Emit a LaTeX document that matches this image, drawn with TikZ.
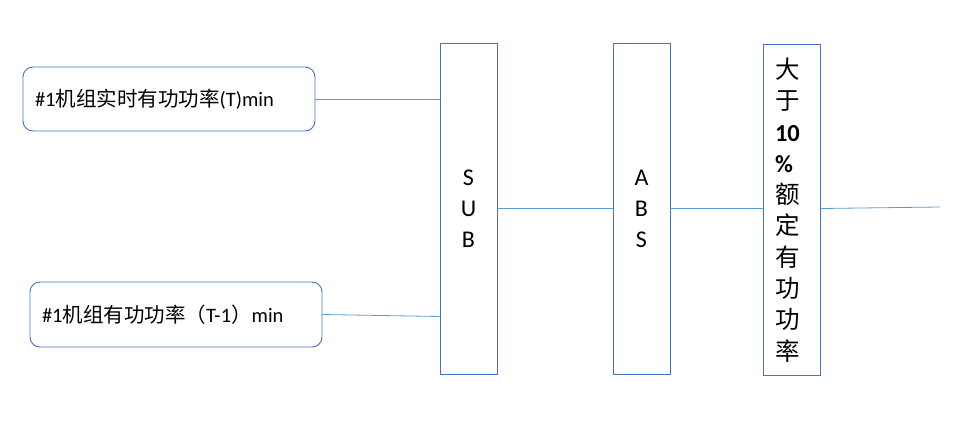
\documentclass[tikz,border=0pt]{standalone}
\usepackage{fontspec}
\setmainfont{Carlito}
\newfontfamily\cjk{Noto Sans CJK SC}
\usepackage{tikz}
\newcommand{\zh}[1]{{\cjk #1}}
\definecolor{boxblue}{HTML}{4472C4}
\definecolor{lineblue}{HTML}{5B9BD5}
\tikzset{
  inbox/.style={draw=boxblue,line width=0.9pt,rounded corners=10pt,text width=268pt,
    inner xsep=12pt,minimum height=64pt,align=left,font=\fontsize{20.5}{24}\selectfont},
  opbox/.style={draw=boxblue,line width=0.9pt,minimum width=57pt,minimum height=331pt,
    inner sep=0pt,align=center},
  wire/.style={draw=lineblue,line width=0.8pt}
}

\begin{document}
\begin{tikzpicture}[x=1pt,y=-1pt]
\useasboundingbox (0,0) rectangle (966,436);
\node[inbox] (cur)  at (169,99)    {\#1\zh{机组实时有功功率}(T)min};
\node[inbox,minimum height=65pt] (prev) at (176,314.5) {\#1\zh{机组有功功率（}T-1\zh{）}min};
\node[opbox,font=\fontsize{24}{31}\selectfont] (sub) at (468.5,208.5) {S\\U\\B};
\node[opbox,font=\fontsize{24}{31}\selectfont] (abs) at (641.5,208.5) {A\\B\\S};
\node[opbox,align=left,text width=34pt,inner xsep=11.5pt,
  font=\fontsize{24.5}{31.3}\selectfont] (lim) at (792,210)
  {\zh{大}\\\zh{于}\\\textbf{10}\\\textbf{\%}\\\zh{额}\\\zh{定}\\\zh{有}\\\zh{功}\\\zh{功}\\\zh{率}};
\coordinate (out) at (940,207);
\draw[wire] (cur.east) -- (cur.east -| sub.west);
\draw[wire] (prev.east) -- ([yshift=-2pt]prev.east -| sub.west);
\draw[wire] (sub) -- (abs);
\draw[wire] (abs) -- (lim.west |- abs);
\draw[wire] (lim.east |- abs) -- (out);
\end{tikzpicture}
\end{document}
